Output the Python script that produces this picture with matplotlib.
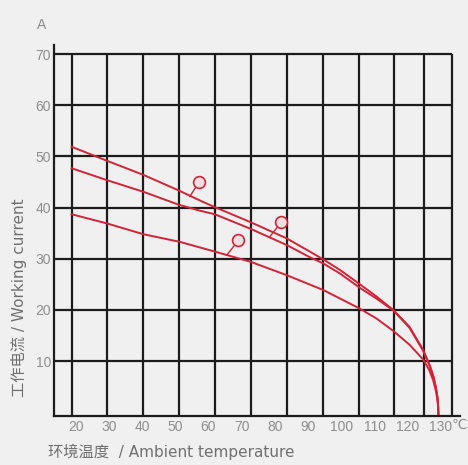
import matplotlib.pyplot as plt

plt.rcParams['font.family'] = ['Liberation Sans', 'Noto Sans CJK SC', 'DejaVu Sans']

# temperature (deg C) and current (A)
temp_ticks = [20, 30, 40, 50, 60, 70, 80, 90, 100, 110, 120, 130]
current_ticks = [10, 20, 30, 40, 50, 60, 70]

# the printed grid is not quite on the tick labels, so keep its own positions
grid_x = [18.8, 29.5, 40.4, 51.2, 61.9, 72.8, 83.5, 94.5, 105.4, 115.8, 124.9, 133.2]

curve1_t = [18.8, 29.3, 40.4, 50.9, 57.4, 61.9, 72.5, 83.5, 90.5, 94.5, 99.6, 105.6,
            110.6, 115.6, 120.5, 124.6, 126.7, 127.7, 128.4, 128.9, 129.15, 129.2]
curve1_a = [51.9, 49.2, 46.4, 43.4, 41.4, 40.1, 37.2, 34.0, 31.4, 29.9, 27.8, 25.0,
            22.6, 20.0, 16.7, 12.2, 9.0, 7.0, 5.0, 3.0, 1.0, -0.5]

curve2_t = [18.8, 29.3, 40.4, 50.9, 57.4, 61.9, 72.5, 83.5, 90.5, 94.5, 99.6, 105.6,
            110.6, 115.6, 120.5, 124.6, 126.7, 127.7, 128.4, 128.9, 129.15, 129.2]
curve2_a = [47.7, 45.4, 43.1, 40.6, 39.4, 38.7, 35.9, 32.7, 30.3, 29.1, 27.1, 24.3,
            22.2, 19.9, 16.5, 12.0, 8.8, 6.9, 4.9, 3.0, 1.0, -0.5]

curve3_t = [18.8, 29.5, 40.4, 51.4, 61.9, 72.7, 83.5, 94.5, 105.4, 110.6, 115.6, 120.5,
            124.6, 126.4, 127.6, 128.5, 129.0, 129.2]
curve3_a = [38.7, 36.9, 34.8, 33.3, 31.4, 29.4, 26.8, 23.9, 20.3, 18.3, 15.9, 13.2,
            10.3, 8.3, 6.3, 4.0, 2.0, -0.5]

# callout circles: circle centre and the point on the curve it points at
mark_t = [57.2, 81.9, 69.0]
mark_a = [45.0, 37.1, 33.6]
mark_on_t = [54.4, 78.3, 65.5]
mark_on_a = [42.2, 34.2, 30.7]

red = '#d02438'
grid_col = '#1c1c1c'
bg = '#f0f0f0'
txt = '#8e8e8e'

fig = plt.figure(figsize=(4.68, 4.65), dpi=100, facecolor=bg)
ax = fig.add_axes([54 / 468, 1 - 416 / 465, 406 / 468, 371 / 465], facecolor=bg)
ax.set_xlim(13.5, 135.7)
ax.set_ylim(-0.75, 71.8)

ax.vlines(grid_x, -0.75, 70, color=grid_col, lw=1.6)
ax.hlines(current_ticks, 13.5, grid_x[-1], color=grid_col, lw=1.6)

for s in ['top', 'right']:
    ax.spines[s].set_visible(False)
for s in ['left', 'bottom']:
    ax.spines[s].set_color(grid_col)
    ax.spines[s].set_linewidth(1.6)

ax.plot(curve1_t, curve1_a, color=red, lw=1.4)
ax.plot(curve2_t, curve2_a, color=red, lw=1.4)
ax.plot(curve3_t, curve3_a, color=red, lw=1.4)

for i in range(len(mark_t)):
    ax.plot([mark_on_t[i], mark_t[i]], [mark_on_a[i], mark_a[i]], color=red, lw=1.0)
    ax.plot(mark_t[i], mark_a[i], 'o', ms=8.5, mfc='#f6dfe1', mec=red, mew=1.2)

ax.set_xticks(temp_ticks)
ax.set_yticks(current_ticks)
ax.tick_params(length=0, labelsize=10, labelcolor=txt)
ax.tick_params(axis='x', pad=3)
ax.tick_params(axis='y', pad=2)

fig.text(42 / 468, 1 - 25 / 465, 'A', ha='center', va='center', fontsize=10, color=txt)
fig.text(459 / 468, 1 - 425 / 465, '℃', ha='center', va='center', fontsize=10, color=txt,
         family=['DejaVu Sans'])
lab_font = ['DejaVu Sans', 'Noto Sans CJK SC']
fig.text(48 / 468, 1 - 452 / 465, '环境温度  / Ambient temperature', ha='left', va='center',
         fontsize=11, color='#707070', family=lab_font)
fig.text(19 / 468, 1 - 298 / 465, '工作电流 / Working current', ha='center', va='center',
         rotation=90, fontsize=11, color='#707070', family=lab_font)

fig.savefig('out.png', dpi=100, facecolor=bg)
